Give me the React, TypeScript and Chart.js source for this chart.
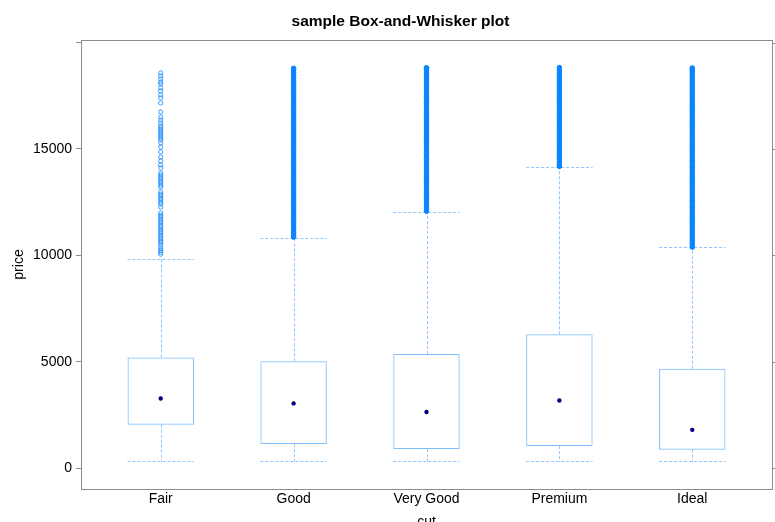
import React, { useEffect, useRef } from 'react';
import { Chart, registerables } from 'chart.js';

Chart.register(...registerables);

// ---- data ----
const cuts = ['Fair', 'Good', 'Very Good', 'Premium', 'Ideal'];
const whiskerLow = [337, 327, 336, 326, 326];
const q1 = [2050, 1145, 912, 1046, 878];
const medians = [3282, 3050, 2648, 3185, 1810];
const q3 = [5206, 5028, 5373, 6296, 4678];
const whiskerHigh = [9840, 10830, 12060, 14170, 10380];

const fairOutliers = [
  10060, 10150, 10240, 10350, 10480, 10590, 10670, 10770, 10860, 10950, 11060,
  11140, 11230, 11340, 11420, 11530, 11610, 11700, 11810, 11890, 11990, 12270,
  12410, 12500, 12610, 12690, 12800, 12880, 12980, 13210, 13300, 13410, 13490,
  13590, 13680, 13780, 13870, 14110, 14250, 14440, 14620, 14860, 15090, 15280,
  15420, 15520, 15610, 15700, 15800, 15890, 15990, 16080, 16220, 16360, 16500,
  16740, 17160, 17400, 17540, 17730, 17870, 18060, 18150, 18290, 18430, 18574,
];
const goodOutliers = [
  10862, 10960, 11075, 11180, 11290, 11395, 11510, 11620, 11725, 11838, 11944,
  12050, 12163, 12270, 12384, 12490, 12598, 12710, 12815, 12930, 13036, 13145,
  13256, 13362, 13475, 13580, 13690, 13802, 13910, 14020, 14128, 14240, 14350,
  14455, 14568, 14675, 14788, 14895, 15005, 15115, 15224, 15335, 15440, 15552,
  15660, 15770, 15880, 15990, 16100, 16210, 16322, 16430, 16540, 16650, 16760,
  16870, 16980, 17092, 17200, 17310, 17420, 17530, 17640, 17752, 17860, 17975,
  18090, 18200, 18330, 18450, 18580, 18690, 18788,
];
const veryGoodOutliers = [
  12075, 12182, 12296, 12401, 12517, 12624, 12735, 12843, 12958, 13062, 13177,
  13284, 13396, 13505, 13618, 13724, 13838, 13946, 14057, 14165, 14278, 14386,
  14497, 14606, 14719, 14825, 14938, 15046, 15157, 15267, 15378, 15486, 15598,
  15707, 15818, 15926, 16038, 16147, 16258, 16366, 16478, 16587, 16698, 16806,
  16918, 17027, 17138, 17246, 17358, 17467, 17578, 17686, 17798, 17907, 18018,
  18127, 18238, 18346, 18458, 18567, 18676, 18760, 18818,
];
const premiumOutliers = [
  14184, 14290, 14402, 14515, 14620, 14733, 14840, 14952, 15061, 15170, 15285,
  15390, 15503, 15612, 15720, 15835, 15940, 16053, 16160, 16272, 16380, 16494,
  16600, 16712, 16825, 16930, 17044, 17150, 17262, 17375, 17480, 17593, 17700,
  17812, 17920, 18035, 18140, 18254, 18360, 18475, 18582, 18690, 18823,
];
const idealOutliers = [
  10392, 10500, 10615, 10720, 10834, 10940, 11052, 11165, 11270, 11384, 11490,
  11603, 11710, 11822, 11935, 12040, 12154, 12260, 12372, 12485, 12590, 12704,
  12810, 12923, 13030, 13145, 13250, 13362, 13475, 13580, 13694, 13800, 13913,
  14020, 14134, 14240, 14353, 14465, 14570, 14684, 14790, 14903, 15010, 15124,
  15230, 15342, 15455, 15560, 15674, 15780, 15893, 16000, 16113, 16220, 16333,
  16445, 16550, 16664, 16770, 16883, 16990, 17103, 17210, 17323, 17435, 17540,
  17654, 17760, 17873, 17980, 18093, 18200, 18313, 18425, 18530, 18640, 18735,
  18806,
];
const denseOutliers = [goodOutliers, veryGoodOutliers, premiumOutliers, idealOutliers];

const yTicks = [0, 5000, 10000, 15000, 20000];
const yTickLabels = ['0', '5000', '10000', '15000', ''];
const yMin = -969;
const yMax = 20118;
const xMin = 0.4;
const xMax = 5.6;
const boxWidth = 0.5;

const titleText = 'sample Box-and-Whisker plot';
const xTitle = 'cut';
const yTitle = 'price';

// ---- styles ----
const FONT = '"Liberation Sans", Arial, Helvetica, sans-serif';
const BOX_COLOR = '#7fbfff';
const WHISKER_COLOR = '#8ec6ff';
const SPARSE_OUT_COLOR = 'rgba(0,128,255,0.75)';
const DENSE_OUT_COLOR = '#0a84ff';
const MED_COLOR = '#000080';
const AXIS_COLOR = '#8c8c8c';

export default function App() {
  const ref = useRef<HTMLCanvasElement>(null);

  useEffect(() => {
    const canvas = ref.current;
    if (!canvas) return;

    const decor = {
      id: 'bwDecor',
      beforeDatasetsDraw(chart: any) {
        const { ctx, scales } = chart;
        const x = scales.x;
        const y = scales.y;
        ctx.save();
        ctx.strokeStyle = WHISKER_COLOR;
        ctx.lineWidth = 1;
        ctx.setLineDash([3, 2]);
        cuts.forEach((_, i) => {
          const cx = Math.round(x.getPixelForValue(i + 1)) + 0.5;
          const l = x.getPixelForValue(i + 1 - boxWidth / 2);
          const r = x.getPixelForValue(i + 1 + boxWidth / 2);
          const yLo = Math.round(y.getPixelForValue(whiskerLow[i])) + 0.5;
          const yHi = Math.round(y.getPixelForValue(whiskerHigh[i])) + 0.5;
          const y1 = y.getPixelForValue(q1[i]);
          const y3 = y.getPixelForValue(q3[i]);
          ctx.beginPath();
          ctx.moveTo(cx, y3);
          ctx.lineTo(cx, yHi);
          ctx.moveTo(cx, y1);
          ctx.lineTo(cx, yLo);
          ctx.moveTo(l, yHi);
          ctx.lineTo(r, yHi);
          ctx.moveTo(l, yLo);
          ctx.lineTo(r, yLo);
          ctx.stroke();
        });
        ctx.restore();
      },
      afterDraw(chart: any) {
        const { ctx, chartArea: a, scales } = chart;
        const y = scales.y;
        ctx.save();
        ctx.strokeStyle = AXIS_COLOR;
        ctx.lineWidth = 1;
        ctx.strokeRect(Math.round(a.left) + 0.5, Math.round(a.top) + 0.5,
          Math.round(a.right - a.left), Math.round(a.bottom - a.top));
        // right-side ticks
        ctx.beginPath();
        yTicks.forEach((v) => {
          const py = Math.round(y.getPixelForValue(v)) + 0.5;
          ctx.moveTo(a.right, py);
          ctx.lineTo(a.right + 5, py);
        });
        ctx.stroke();
        // title
        ctx.fillStyle = '#000';
        ctx.font = `bold 15.5px ${FONT}`;
        ctx.textAlign = 'center';
        ctx.textBaseline = 'alphabetic';
        ctx.fillText(titleText, 400.5, 26);
        ctx.restore();
      },
    };

    const chart = new Chart(canvas, {
      type: 'bar',
      data: {
        datasets: [
          {
            type: 'scatter',
            label: 'median',
            data: medians.map((m, i) => ({ x: i + 1, y: m })),
            pointRadius: 2.2,
            pointBackgroundColor: MED_COLOR,
            pointBorderColor: MED_COLOR,
            pointBorderWidth: 0,
            order: 0,
          } as any,
          {
            type: 'scatter',
            label: 'outliers Fair',
            data: fairOutliers.map((v) => ({ x: 1, y: v })),
            pointRadius: 2.1,
            pointBackgroundColor: 'rgba(0,0,0,0)',
            pointBorderColor: SPARSE_OUT_COLOR,
            pointBorderWidth: 1,
            order: 1,
          } as any,
          {
            type: 'scatter',
            label: 'outliers dense',
            data: denseOutliers.flatMap((arr, i) => arr.map((v) => ({ x: i + 2, y: v }))),
            pointRadius: 2.3,
            pointBackgroundColor: DENSE_OUT_COLOR,
            pointBorderColor: DENSE_OUT_COLOR,
            pointBorderWidth: 1,
            order: 1,
          } as any,
          {
            type: 'bar',
            label: 'box',
            data: cuts.map((_, i) => ({ x: i + 1, y: [q1[i], q3[i]] })),
            backgroundColor: 'rgba(0,0,0,0)',
            borderColor: BOX_COLOR,
            borderWidth: 1,
            borderSkipped: false,
            barPercentage: boxWidth,
            categoryPercentage: 1,
            order: 2,
          } as any,
        ],
      },
      options: {
        responsive: false,
        animation: false,
        events: [],
        layout: { autoPadding: false, padding: { left: 0, right: 3, top: 40, bottom: 0 } },
        plugins: {
          legend: { display: false },
          tooltip: { enabled: false },
          title: { display: false },
        },
        scales: {
          x: {
            type: 'linear',
            min: xMin,
            max: xMax,
            offset: false,
            afterBuildTicks: (s: any) => {
              s.ticks = cuts.map((_, i) => ({ value: i + 1 }));
            },
            afterFit: (s: any) => {
              s.height = 51;
              s.paddingLeft = 0;
              s.paddingRight = 0;
            },
            grid: { display: false, drawTicks: false },
            border: { display: false },
            ticks: {
              autoSkip: false,
              maxRotation: 0,
              padding: 2,
              color: '#000',
              font: { family: FONT, size: 14 },
              callback: (v: any) => cuts[Math.round(Number(v)) - 1] ?? '',
            },
            title: {
              display: true,
              text: xTitle,
              color: '#000',
              font: { family: FONT, size: 14 },
              padding: { top: 0, bottom: 9.6 },
            },
          },
          y: {
            type: 'linear',
            min: yMin,
            max: yMax,
            afterBuildTicks: (s: any) => {
              s.ticks = yTicks.map((v) => ({ value: v }));
            },
            afterFit: (s: any) => {
              s.width = 81;
              s.paddingTop = 0;
              s.paddingBottom = 0;
            },
            grid: {
              drawOnChartArea: false,
              drawTicks: true,
              tickLength: 5,
              color: AXIS_COLOR,
            },
            border: { display: false },
            ticks: {
              padding: 4,
              color: '#000',
              font: { family: FONT, size: 14 },
              callback: (v: any) => {
                const idx = yTicks.indexOf(Number(v));
                return idx >= 0 ? yTickLabels[idx] : '';
              },
            },
            title: {
              display: true,
              text: yTitle,
              color: '#000',
              font: { family: FONT, size: 14 },
              padding: { top: 11, bottom: 0 },
            },
          },
        },
      } as any,
      plugins: [decor],
    });

    return () => chart.destroy();
  }, []);

  return (
    <div
      style={{
        position: 'fixed',
        left: 0,
        top: 0,
        width: 775,
        height: 522,
        overflow: 'hidden',
        background: '#fff',
      }}
    >
      <canvas ref={ref} width={775} height={540} style={{ width: 775, height: 540, display: 'block' }} />
    </div>
  );
}
